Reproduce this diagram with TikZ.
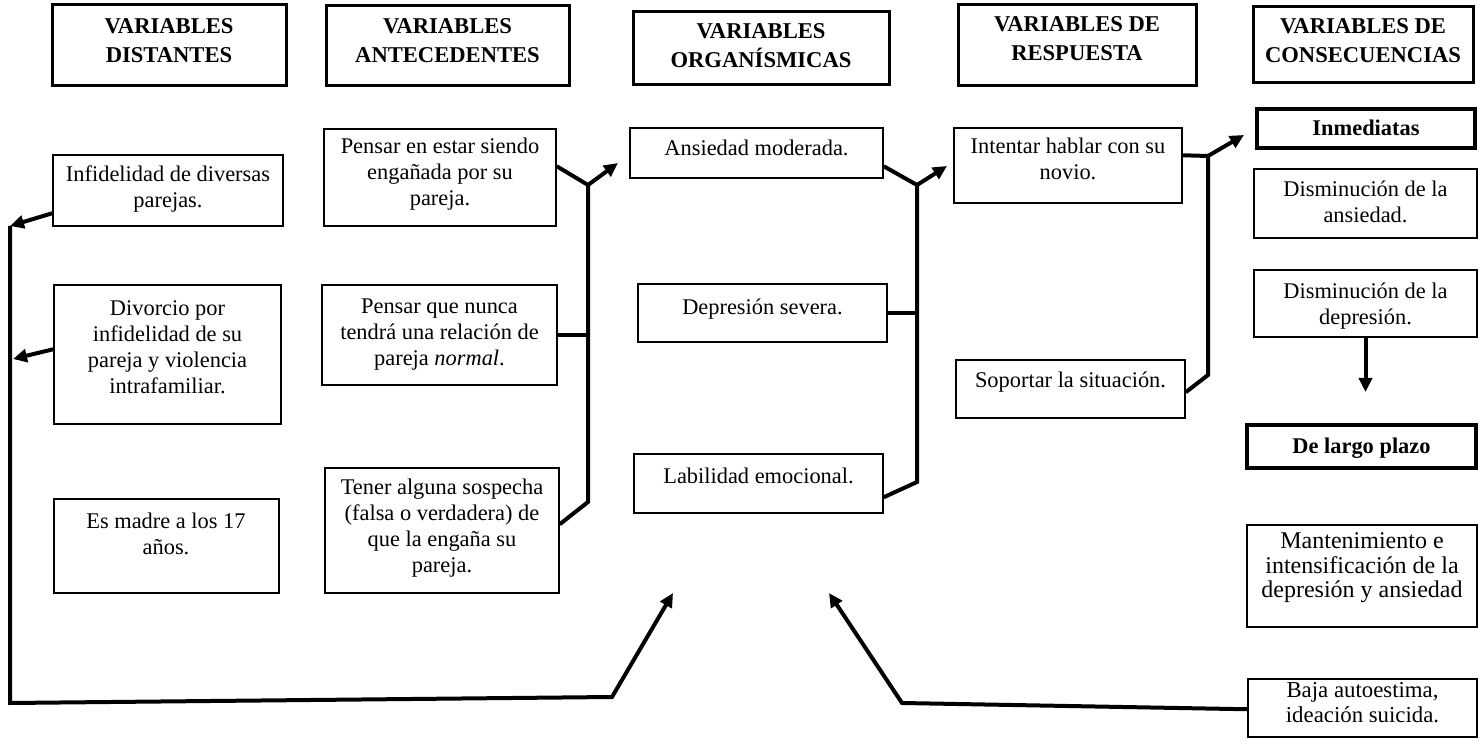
\documentclass[tikz,border=0pt]{standalone}
\usepackage{fontspec}
\setmainfont{Liberation Serif}
\usetikzlibrary{arrows.meta,fit,calc}
\begin{document}
\begin{tikzpicture}[x=0.5pt,y=-0.5pt,
  box/.style={draw=black, line width=0.75pt, inner sep=0pt},
  headbox/.style={draw=black, line width=1.5pt, inner sep=0pt},
  subbox/.style={draw=black, line width=1.6pt, inner sep=0pt},
  txt/.style={inner sep=0pt, align=center, anchor=north, font=\fontsize{11.2}{13}\selectfont},
  bigtxt/.style={txt, font=\fontsize{12}{12.3}\selectfont},
  midtxt/.style={txt, font=\fontsize{11.4}{12.5}\selectfont},
  headtxt/.style={inner sep=0pt, align=center, anchor=north, font=\fontsize{11.3}{14.5}\selectfont\bfseries},
  conn/.style={line width=2pt, line join=miter},
  arr/.style={conn, -{Triangle[length=7pt,width=6.5pt]}},
]
\useasboundingbox (0,0) rectangle (1479,743);

% ---------- column headers ----------
\node[headbox, fit={(52,5) (286,86)}] (h1) {};
\node[headtxt] (h1t) at (169,33-20.3) {\strut VARIABLES\\DISTANTES};
\node[headbox, fit={(326,6) (569,86)}] (h2) {};
\node[headtxt] (h2t) at (447.5,33-20.3) {\strut VARIABLES\\ANTECEDENTES};
\node[headbox, fit={(633,12) (889,85)}] (h3) {};
\node[headtxt] (h3t) at (761,38-20.3) {\strut VARIABLES\\ORGANÍSMICAS};
\node[headbox, fit={(958,5) (1196,86)}] (h4) {};
\node[headtxt] (h4t) at (1077,31-20.3) {\strut VARIABLES DE\\RESPUESTA};
\node[headbox, fit={(1253,7) (1473,83)}] (h5) {};
\node[headtxt] (h5t) at (1363,33-20.3) {\strut VARIABLES DE\\CONSECUENCIAS};

% ---------- distant variables ----------
\node[box, fit={(53,155) (283,226)}] (d1) {};
\node[txt] (d1t) at (168,181-18.2) {\strut Infidelidad de diversas\\parejas.};
\node[box, fit={(54,285) (281,424)}] (d2) {};
\node[txt] (d2t) at (167.5,315-18.2) {\strut Divorcio por\\infidelidad de su\\pareja y violencia\\intrafamiliar.};
\node[box, fit={(54,499) (279,593)}] (d3) {};
\node[txt] (d3t) at (166,528-18.2) {\strut Es madre a los 17\\años.};

% ---------- antecedent variables ----------
\node[box, fit={(324,129) (556,226)}] (a1) {};
\node[txt] (a1t) at (440,153-18.2) {\strut Pensar en estar siendo\\engañada por su\\pareja.};
\node[box, fit={(322,285) (557,385)}] (a2) {};
\node[txt] (a2t) at (439.5,313-18.2) {\strut Pensar que nunca\\tendrá una relación de\\pareja \textit{normal}.};
\node[box, fit={(325,468) (559,593)}] (a3) {};
\node[txt] (a3t) at (442,494-18.2) {\strut Tener alguna sospecha\\(falsa o verdadera) de\\que la engaña su\\pareja.};

% ---------- organismic variables ----------
\node[box, fit={(630,128) (883,178)}] (o1) {};
\node[txt] (o1t) at (756.5,155-18.2) {\strut Ansiedad moderada.};
\node[box, fit={(638,284) (887,342)}] (o2) {};
\node[txt] (o2t) at (762.5,314-18.2) {\strut Depresión severa.};
\node[box, fit={(634,454) (883,513)}] (o3) {};
\node[txt] (o3t) at (758.5,483-18.2) {\strut Labilidad emocional.};

% ---------- response variables ----------
\node[box, fit={(954,128) (1182,203)}] (r1) {};
\node[txt] (r1t) at (1068,153-18.2) {\strut Intentar hablar con su\\novio.};
\node[box, fit={(956,360) (1185,418)}] (r2) {};
\node[txt] (r2t) at (1070.5,387-18.2) {\strut Soportar la situación.};

% ---------- consequences ----------
\node[subbox, fit={(1257,109) (1475,148)}] (c0) {};
\node[txt] (c0t) at (1366,135-18.2) {\strut\bfseries Inmediatas};
\node[box, fit={(1254,169) (1477,238)}] (c1) {};
\node[txt] (c1t) at (1365.5,196-18.2) {\strut Disminución de la\\ansiedad.};
\node[box, fit={(1254,270) (1477,337)}] (c2) {};
\node[txt] (c2t) at (1365.5,298-18.2) {\strut Disminución de la\\depresión.};
\node[subbox, fit={(1247,425) (1476,468)}] (cL) {};
\node[txt] (cLt) at (1361.5,453-18.2) {\strut\bfseries De largo plazo};
\node[box, fit={(1247,525) (1477,627)}] (c3) {};
\node[bigtxt] (c3t) at (1362,548-17.22) {\strut Mantenimiento e\\intensificación de la\\depresión y ansiedad};
\node[box, fit={(1248,679) (1477,737)}] (c4) {};
\node[midtxt] (c4t) at (1362.5,697-17.5) {\strut Baja autoestima,\\ideación suicida.};

% ---------- junction points ----------
\coordinate (j1) at (588,185);
\coordinate (j1b) at (588,502);
\coordinate (k1) at (618,163);
\coordinate (j2) at (917,185);
\coordinate (j2b) at (917,482);
\coordinate (k2) at (947,166);
\coordinate (j3) at (1208,156);
\coordinate (j3b) at (1208,375);
\coordinate (k3) at (1244,135);
\coordinate (k4) at (1366,392);
\coordinate (l1) at (10,226);
\coordinate (l2) at (13,359);
\coordinate (lb) at (10,703);
\coordinate (lc) at (612,697);
\coordinate (k5) at (673,593);
\coordinate (rb) at (902,703);
\coordinate (k6) at (829,593);

% antecedents -> organismic
\draw[conn] ($(a1.north east)+(0,38)$) -- (j1) -- (j1b) -- ($(a3.north east)+(0,57)$);
\draw[conn] (a2.east) -- (a2.east -| j1);
\draw[arr] (j1) -- (k1);

% organismic -> response
\draw[conn] ($(o1.north east)+(0,39)$) -- (j2) -- (j2b) -- ($(o3.north east)+(0,44)$);
\draw[conn] (o2.east) -- (o2.east -| j2);
\draw[arr] (j2) -- (k2);

% response -> consequences
\draw[conn] ($(r1.north east)+(0,28)$) -- (j3) -- (j3b) -- ($(r2.north east)+(0,33)$);
\draw[arr] (j3) -- (k3);

% immediate -> long term
\draw[arr] (c2.south) -- (c2.south |- k4);

% feedback loops
\draw[arr] ($(d1.north west)+(0,59)$) -- (l1);
\draw[arr] ($(d2.north west)+(0,65)$) -- (l2);
\draw[arr] (l1) -- (lb) -- (lc) -- (k5);
\draw[arr] ($(c4.north west)+(0,31)$) -- (rb) -- (k6);

\end{tikzpicture}
\end{document}
